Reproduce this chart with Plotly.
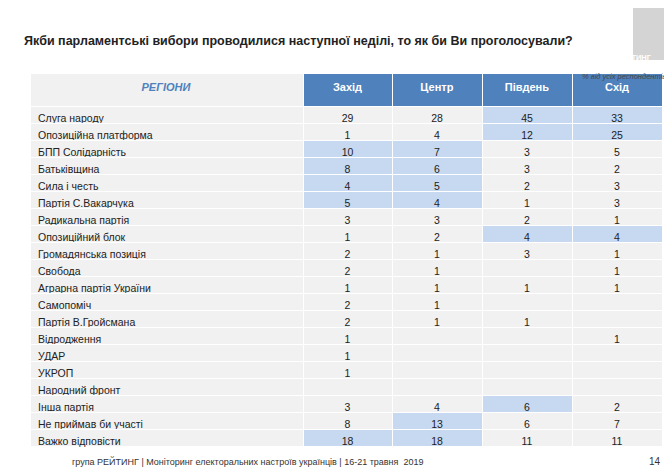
import plotly.graph_objects as go

parties = ["Слуга народу", "Опозиційна платформа", "БПП Солідарність", "Батьківщина",
           "Сила і честь", "Партія С.Вакарчука", "Радикальна партія", "Опозиційний блок",
           "Громадянська позиція", "Свобода", "Аграрна партія України", "Самопоміч",
           "Партія В.Гройсмана", "Відродження", "УДАР", "УКРОП", "Народний фронт",
           "Інша партія", "Не приймав би участі", "Важко відповісти"]
regions = ["Захід", "Центр", "Південь", "Схід"]
zakhid = [29, 1, 10, 8, 4, 5, 3, 1, 2, 2, 1, 2, 2, 1, 1, 1, None, 3, 8, 18]
tsentr = [28, 4, 7, 6, 5, 4, 3, 2, 1, 1, 1, 1, 1, None, None, None, None, 4, 13, 18]
pivden = [45, 12, 3, 3, 2, 1, 2, 4, 3, None, 1, None, 1, None, None, None, None, 6, 6, 11]
skhid = [33, 25, 5, 2, 3, 3, 1, 4, 1, 1, 1, None, None, 1, None, None, None, 2, 7, 11]
# cells highlighted in the source (row indices per region)
hl = {"Захід": [2, 3, 4, 5, 19], "Центр": [2, 3, 4, 5, 18, 19],
      "Південь": [0, 1, 7, 17], "Схід": [0, 1, 7]}

W, H = 672, 471
GRAY, HL = "#f1f1f1", "#c6d9f1"
FONT = "Liberation Sans"
cols = [zakhid, tsentr, pivden, skhid]
values = [parties] + [["" if v is None else v for v in c] for c in cols]
fills = [[GRAY] * len(parties)] + [
    [HL if i in hl[r] else GRAY for i in range(len(parties))] for r in regions]

fig = go.Figure(go.Table(
    domain=dict(x=[22 / W, 654 / W], y=[1 - 446 / H, 1 - 65 / H]),
    columnwidth=[273, 89, 90, 90, 90],
    header=dict(values=["<b><i>РЕГІОНИ</i></b>"] + [f"<b>{r}</b>" for r in regions],
                fill_color=["#f1f1f1"] + ["#4f81bd"] * 4,
                font=dict(color=["#4f81bd", "white", "white", "white", "white"],
                          size=11, family=FONT),
                align="center", height=33, line=dict(color="white", width=1)),
    cells=dict(values=values, fill_color=fills,
               font=dict(color="#222", size=10.5, family=FONT),
               align=["left", "center", "center", "center", "center"],
               height=17, line=dict(color="white", width=1)),
))

fig.add_shape(type="rect", xref="paper", yref="paper", x0=625 / W, x1=667 / W,
              y0=1 - 52 / H, y1=1, fillcolor="#d4d4d4", line_width=0, layer="above")
fig.add_annotation(x=646 / W, y=1 - 43 / H, xref="paper", yref="paper",
                   text="<b>РЕЙТИНГ</b>", showarrow=False,
                   font=dict(size=7.5, color="white", family=FONT))
fig.add_annotation(x=14 / W, y=1 - 24 / H, xref="paper", yref="paper", xanchor="left",
                   text="<b>Якби парламентські вибори проводилися наступної неділі, то як би Ви проголосували?</b>",
                   showarrow=False, font=dict(size=12.5, color="#222", family=FONT))
fig.add_annotation(x=660 / W, y=1 - 62 / H, xref="paper", yref="paper", xanchor="right",
                   text="<i>% від усіх респондентів</i>", showarrow=False,
                   font=dict(size=7.5, color="#444", family=FONT))
fig.add_annotation(x=62 / W, y=1 - 461 / H, xref="paper", yref="paper", xanchor="left",
                   text="група РЕЙТИНГ | Моніторинг електоральних настроїв українців | 16-21 травня  2019",
                   showarrow=False, font=dict(size=9, color="#333", family=FONT))
fig.add_annotation(x=655 / W, y=1 - 461 / H, xref="paper", yref="paper", xanchor="right",
                   text="14", showarrow=False, font=dict(size=10, color="#333", family=FONT))

fig.update_layout(width=W, height=H, margin=dict(l=0, r=0, t=0, b=0),
                  paper_bgcolor="white", showlegend=False)
fig.write_html("out.html")
